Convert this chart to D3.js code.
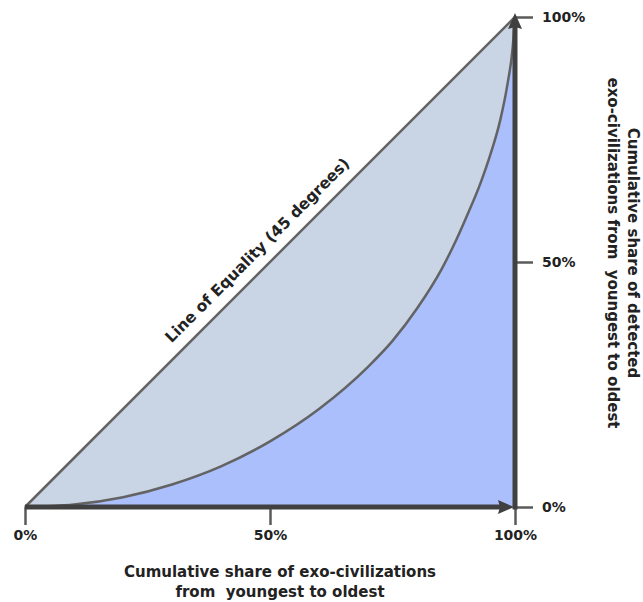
<!DOCTYPE html>
<html>
<head>
<meta charset="utf-8">
<script src="https://cdn.jsdelivr.net/npm/d3@7"></script>
<style>
  body { margin: 0; background: #fff; }
  text { font-family: "DejaVu Sans", sans-serif; font-weight: bold; fill: #222; }
  .title { font-size: 15px; white-space: pre; }
</style>
</head>
<body>
<div id="chart"></div>
<script>
// cumulative share of exo-civilizations (x, %) and detected share (y, %)
var shareCivs = [0, 10, 20, 30, 40, 50, 60, 70, 75, 80, 85, 88, 90, 93, 95, 97, 98.5, 99.5, 100];
var shareDetected = [0, 0.5, 2, 4.6, 8.3, 13.4, 20, 28.6, 33.9, 40.5, 48.5, 54.5, 59, 66.2, 72, 79, 86.5, 93.5, 100];
var equality = [0, 100];
var tickVals = [0, 50, 100];
var xTitle = ["Cumulative share of exo-civilizations", "from  youngest to oldest"];
var yTitle = ["Cumulative share of detected", "exo-civilizations from  youngest to oldest"];
var equalityLabel = "Line of Equality (45 degrees)";

var W = 643, H = 602;
var margin = {left: 25, top: 17, right: 128, bottom: 95};

var svg = d3.select("#chart").append("svg")
    .attr("width", W)
    .attr("height", H);

var x = d3.scaleLinear().domain([0, 100]).range([margin.left, W - margin.right]);
var y = d3.scaleLinear().domain([0, 100]).range([H - margin.bottom, margin.top]);

var curvePts = shareCivs.map(function(d, i) { return [d, shareDetected[i]]; });

//lower area, under the Lorenz curve
var under = d3.area()
    .x(function(d) { return x(d[0]); })
    .y0(y(0))
    .y1(function(d) { return y(d[1]); })
    .curve(d3.curveMonotoneX);

var line = d3.line()
    .x(function(d) { return x(d[0]); })
    .y(function(d) { return y(d[1]); })
    .curve(d3.curveMonotoneX);

//upper area between equality line and the curve
var gapPath = "M" + x(0) + "," + y(0) + "L" + x(100) + "," + y(100) +
    line(curvePts.slice().reverse()).replace(/^M/, "L") + "Z";

svg.append("path").attr("d", gapPath).style("fill", "#c9d4e4");
svg.append("path").attr("d", under(curvePts)).style("fill", "#aabffb");

svg.append("path")
    .attr("d", line(equality.map(function(d) { return [d, d]; })))
    .style("fill", "none").style("stroke", "#636363").style("stroke-width", 2.5);

svg.append("path")
    .attr("d", line(curvePts))
    .style("fill", "none").style("stroke", "#636363").style("stroke-width", 2.5);

//label along the equality line
var mid = 50;
svg.append("text")
    .attr("class", "title")
    .attr("transform", "translate(" + (x(mid) - 9) + "," + (y(mid) - 8) + ") rotate(-45)")
    .style("text-anchor", "middle")
    .style("font-size", "15.5px")
    .text(equalityLabel);

//axes with ticks only (domain drawn as thick arrows below)
var xAxis = svg.append("g")
    .attr("transform", "translate(0," + y(0) + ")")
    .call(d3.axisBottom(x).tickValues(tickVals).tickSize(18).tickPadding(5)
        .tickFormat(function(d) { return d + "%"; }));
var yAxis = svg.append("g")
    .attr("transform", "translate(" + x(100) + ",0)")
    .call(d3.axisRight(y).tickValues(tickVals).tickSize(18).tickPadding(9)
        .tickFormat(function(d) { return d + "%"; }));

[xAxis, yAxis].forEach(function(g) {
    g.select(".domain").remove();
    g.selectAll("line").style("stroke", "#5a5a5a").style("stroke-width", 2.5);
    g.selectAll("text").style("font-size", "14px").style("fill", "#222")
        .style("font-family", "'DejaVu Sans', sans-serif").style("font-weight", "bold");
});

//thick axis lines
svg.append("line")
    .attr("x1", x(0)).attr("x2", x(100) - 10)
    .attr("y1", y(0)).attr("y2", y(0))
    .style("stroke", "#404040").style("stroke-width", 5);
svg.append("line")
    .attr("x1", x(100)).attr("x2", x(100))
    .attr("y1", y(0) + 2.5).attr("y2", y(100) + 8)
    .style("stroke", "#404040").style("stroke-width", 5);

//arrow heads
svg.append("path")
    .attr("d", "M" + (x(100) - 1) + "," + y(0) + "l-16,-7l2,7l-2,7Z")
    .style("fill", "#404040");
svg.append("path")
    .attr("d", "M" + x(100) + "," + (y(100) - 4) + "l-7,16l7,-2l7,2Z")
    .style("fill", "#404040");

//axis titles
svg.selectAll(".xTitle")
    .data(xTitle)
    .enter().append("text")
    .attr("class", "title")
    .attr("x", 280)
    .attr("y", function(d, i) { return 577 + i * 20; })
    .style("text-anchor", "middle")
    .text(function(d) { return d; });

svg.selectAll(".yTitle")
    .data(yTitle)
    .enter().append("text")
    .attr("class", "title")
    .attr("transform", function(d, i) { return "translate(" + (628 - i * 20) + ",253) rotate(90)"; })
    .style("text-anchor", "middle")
    .text(function(d) { return d; });
</script>
</body>
</html>
